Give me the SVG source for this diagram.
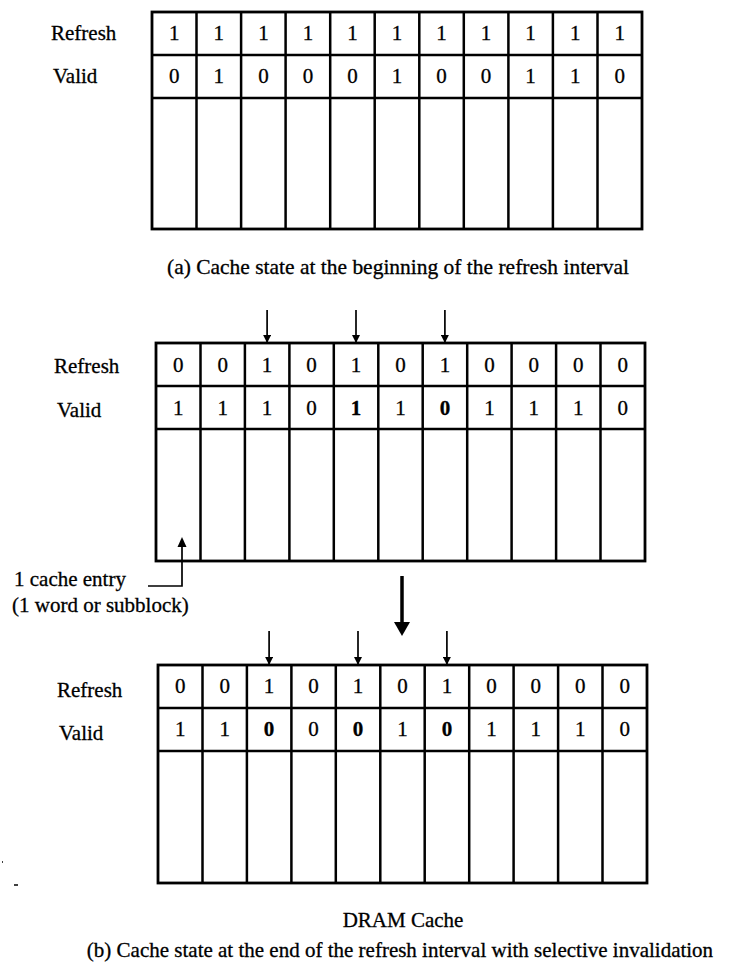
<svg xmlns="http://www.w3.org/2000/svg" width="730" height="976" viewBox="0 0 730 976">
<style>
text{font-family:"Liberation Serif","Times New Roman",serif;fill:#000;stroke:#000;stroke-width:0.3}
.lbl{font-size:21px}
.d{font-size:21px;text-anchor:middle}
.b{font-weight:bold}
.cap{font-size:21px}
.g{fill:none;stroke:#000;stroke-width:2.8}
.ln{stroke:#000;stroke-width:2.5}
.ar{stroke:#000;stroke-width:1.7;fill:none}
</style>
<defs>
<marker id="ah" viewBox="0 0 10 10" refX="10" refY="5" markerWidth="8" markerHeight="8" orient="auto" markerUnits="userSpaceOnUse">
<path d="M0,0 L10,5 L0,10 z" fill="#000"/>
</marker>
</defs>
<rect width="730" height="976" fill="#fff"/>

<g id="grid-a">
<text class="lbl" x="51" y="40">Refresh</text>
<text class="lbl" x="53" y="83">Valid</text>
<rect class="g" x="152" y="12" width="490" height="217"/>
<path class="ln" d="M152,55H642M152,98H642M196.5,12V229M241.1,12V229M285.6,12V229M330.2,12V229M374.7,12V229M419.3,12V229M463.8,12V229M508.4,12V229M552.9,12V229M597.5,12V229"/>
<g class="d">
<text x="174.3" y="40">1</text><text x="218.8" y="40">1</text><text x="263.4" y="40">1</text><text x="307.9" y="40">1</text><text x="352.5" y="40">1</text><text x="397.0" y="40">1</text><text x="441.5" y="40">1</text><text x="486.1" y="40">1</text><text x="530.6" y="40">1</text><text x="575.2" y="40">1</text><text x="619.7" y="40">1</text>
<text x="174.3" y="83">0</text><text x="218.8" y="83">1</text><text x="263.4" y="83">0</text><text x="307.9" y="83">0</text><text x="352.5" y="83">0</text><text x="397.0" y="83">1</text><text x="441.5" y="83">0</text><text x="486.1" y="83">0</text><text x="530.6" y="83">1</text><text x="575.2" y="83">1</text><text x="619.7" y="83">0</text>
</g>
<text class="cap" x="167" y="274" textLength="462" lengthAdjust="spacingAndGlyphs">(a) Cache state at the beginning of the refresh interval</text>
</g>

<g id="grid-b">
<text class="lbl" x="54" y="373">Refresh</text>
<text class="lbl" x="57" y="417">Valid</text>
<rect class="g" x="156" y="343" width="489" height="218"/>
<path class="ln" d="M156,386H645M156,429H645M200.5,343V561M244.9,343V561M289.4,343V561M333.8,343V561M378.3,343V561M422.7,343V561M467.2,343V561M511.6,343V561M556.1,343V561M600.5,343V561"/>
<g class="d">
<text x="178.2" y="372">0</text><text x="222.7" y="372">0</text><text x="267.1" y="372">1</text><text x="311.6" y="372">0</text><text x="356.0" y="372">1</text><text x="400.5" y="372">0</text><text x="444.9" y="372">1</text><text x="489.4" y="372">0</text><text x="533.8" y="372">0</text><text x="578.3" y="372">0</text><text x="622.8" y="372">0</text>
<text x="178.2" y="415">1</text><text x="222.7" y="415">1</text><text x="267.1" y="415">1</text><text x="311.6" y="415">0</text><text x="356.0" y="415" class="b">1</text><text x="400.5" y="415">1</text><text x="444.9" y="415" class="b">0</text><text x="489.4" y="415">1</text><text x="533.8" y="415">1</text><text x="578.3" y="415">1</text><text x="622.8" y="415">0</text>
</g>
</g>

<g id="entry-label">
<text class="cap" x="14" y="586">1 cache entry</text>
<text class="cap" x="12" y="612">(1 word or subblock)</text>
</g>

<g id="grid-c">
<text class="lbl" x="57" y="697">Refresh</text>
<text class="lbl" x="59" y="740">Valid</text>
<rect class="g" x="158" y="665" width="489" height="218"/>
<path class="ln" d="M158,708H647M158,751H647M202.5,665V883M246.9,665V883M291.4,665V883M335.8,665V883M380.3,665V883M424.7,665V883M469.2,665V883M513.6,665V883M558.1,665V883M602.5,665V883"/>
<g class="d">
<text x="180.2" y="693">0</text><text x="224.7" y="693">0</text><text x="269.1" y="693">1</text><text x="313.6" y="693">0</text><text x="358.0" y="693">1</text><text x="402.5" y="693">0</text><text x="446.9" y="693">1</text><text x="491.4" y="693">0</text><text x="535.8" y="693">0</text><text x="580.3" y="693">0</text><text x="624.8" y="693">0</text>
<text x="180.2" y="736">1</text><text x="224.7" y="736">1</text><text x="269.1" y="736" class="b">0</text><text x="313.6" y="736">0</text><text x="358.0" y="736" class="b">0</text><text x="402.5" y="736">1</text><text x="446.9" y="736" class="b">0</text><text x="491.4" y="736">1</text><text x="535.8" y="736">1</text><text x="580.3" y="736">1</text><text x="624.8" y="736">0</text>
</g>
<text class="cap" x="403" y="927" text-anchor="middle">DRAM Cache</text>
<text class="cap" x="400" y="957" text-anchor="middle">(b) Cache state at the end of the refresh interval with selective invalidation</text>
</g>

<g id="connectors">
<line class="ar" x1="267.1" y1="310" x2="267.1" y2="343" marker-end="url(#ah)"/>
<line class="ar" x1="356.0" y1="310" x2="356.0" y2="343" marker-end="url(#ah)"/>
<line class="ar" x1="444.9" y1="310" x2="444.9" y2="343" marker-end="url(#ah)"/>
<line class="ar" x1="269.1" y1="631" x2="269.1" y2="665" marker-end="url(#ah)"/>
<line class="ar" x1="358.0" y1="631" x2="358.0" y2="665" marker-end="url(#ah)"/>
<line class="ar" x1="446.9" y1="631" x2="446.9" y2="665" marker-end="url(#ah)"/>
<polyline class="ar" points="148,586 182,586 182,546"/>
<polygon points="177.5,547 186.5,547 182,537" fill="#000"/>
<line x1="402" y1="576" x2="402" y2="624" stroke="#000" stroke-width="3.5"/>
<polygon points="394,622 410,622 402,636" fill="#000"/>
</g>

<g id="marks">
<line x1="2" y1="862" x2="3" y2="862" stroke="#000" stroke-width="1.5"/>
<line x1="14" y1="885" x2="18" y2="885" stroke="#000" stroke-width="1.5"/>
</g>
</svg>
